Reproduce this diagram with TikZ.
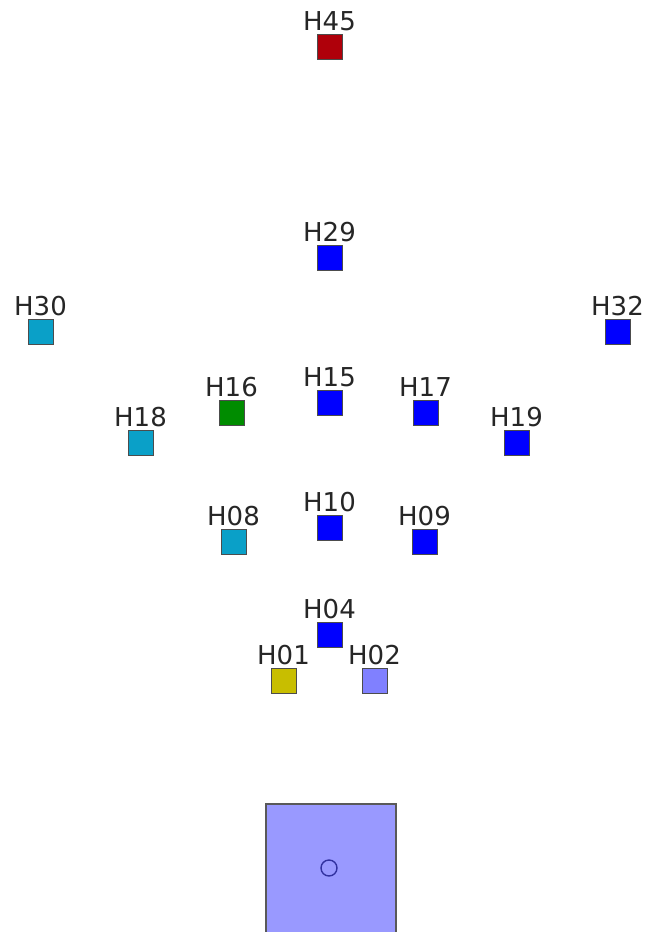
\documentclass[tikz,border=0pt]{standalone}
\usepackage{fontspec}
\setmainfont{DejaVu Sans}
\definecolor{cblue}{RGB}{0,0,255}
\definecolor{cred}{RGB}{175,0,10}
\definecolor{ccyan}{RGB}{10,160,200}
\definecolor{cgreen}{RGB}{0,140,0}
\definecolor{colive}{RGB}{200,190,0}
\definecolor{clight}{RGB}{128,128,255}
\definecolor{cbig}{RGB}{153,153,255}
\definecolor{ccirc}{RGB}{50,50,160}
\tikzset{
  sq/.style={draw=black!70, line width=1.4pt, minimum size=25pt, inner sep=0pt, outer sep=0pt},
  lbl/.style={font=\fontsize{26}{26}\selectfont, text=black!85, inner sep=0pt}
}
\begin{document}
\begin{tikzpicture}[x=1pt,y=-1pt]
\clip (0,0) rectangle (647,932);
\fill[white] (0,0) rectangle (647,932);
\node[draw=black!65, line width=2pt, fill=cbig, minimum width=130pt, minimum height=150pt, inner sep=0pt, anchor=north west] (base) at (264.5,803) {};
\node[draw=ccirc, line width=1.4pt, circle, minimum size=16pt, inner sep=0pt] (center) at (329,868) {};
\foreach \n/\x/\y/\c in {H45/330/47/cred, H29/330/258/cblue, H30/41/332/ccyan, H32/618/332/cblue,
  H15/330/403/cblue, H16/232/413/cgreen, H17/426/413/cblue, H18/141/443/ccyan, H19/517/443/cblue,
  H10/330/528/cblue, H08/234/542/ccyan, H09/425/542/cblue, H04/330/635/cblue,
  H01/284/681/colive, H02/375/681/clight}{
  \node[sq, fill=\c] (\n) at (\x,\y) {};
  \node[lbl] (\n-lbl) at (\x-0.5,\y-26) {\n};
}
\end{tikzpicture}
\end{document}
